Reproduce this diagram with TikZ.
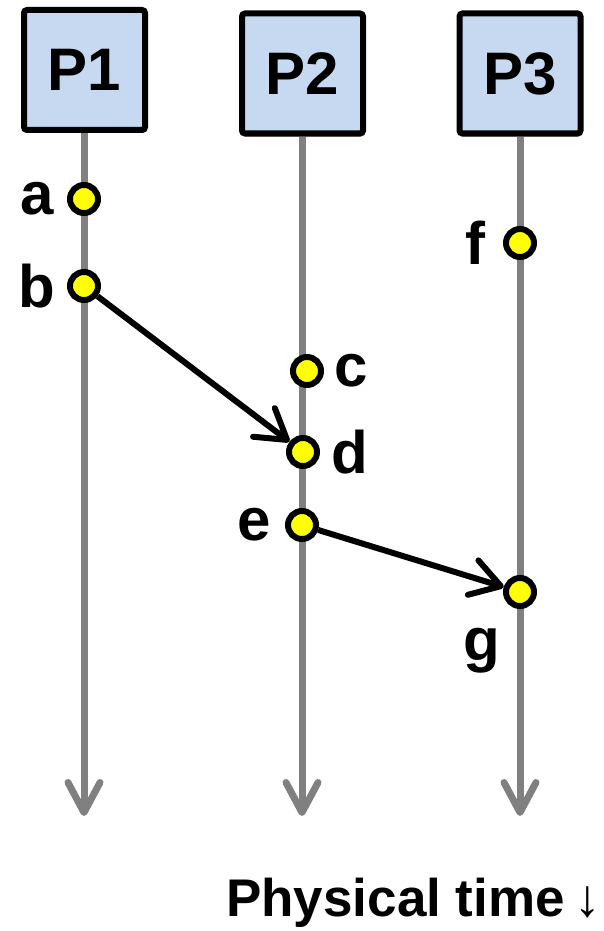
\documentclass[tikz,border=0pt]{standalone}
\usepackage{fontspec}
\setmainfont{Liberation Sans}
\newfontfamily\arrowfont{Liberation Serif}
\usepackage{xcolor}
\usetikzlibrary{positioning,arrows.meta,shadows}
\definecolor{procblue}{RGB}{198,217,241}
\definecolor{evyellow}{RGB}{255,255,0}
\begin{document}
\begin{tikzpicture}[x=1pt,y=-1pt,
            procbox/.style={rectangle,rounded corners=3pt,draw,line width=6pt,fill=procblue,minimum width=121pt,minimum height=120pt,inner sep=0pt,font=\fontsize{60}{66}\selectfont\bfseries,drop shadow={opacity=0.25,shadow xshift=2pt,shadow yshift=-3pt}},
            event/.style={circle,draw,line width=6pt,fill=evyellow,minimum size=28pt,inner sep=0pt,drop shadow={opacity=0.2,shadow xshift=1pt,shadow yshift=-2pt}},
            evlabel/.style={inner sep=0pt,font=\fontsize{60}{66}\selectfont\bfseries},
            timeline/.style={-{Straight Barb[length=30pt,width=32pt,round]},line width=7pt,gray},
            msg/.style={-{Straight Barb[length=29pt,width=36pt,round]},line width=6pt,black}]
            \useasboundingbox (0,0) rectangle (603,931);
            \node[procbox] (p1) at (84.5,70) {P1};
            \node[procbox] (p2) at (302.5,73.5) {P2};
            \node[procbox] (p3) at (520,73.5) {P3};
            \coordinate (t1) at (84,816);
            \coordinate (t2) at (302,816);
            \coordinate (t3) at (520,816);
            \draw[timeline] (p1.south -| t1) -- (t1);
            \draw[timeline] (p2.south -| t2) -- (t2);
            \draw[timeline] (p3.south -| t3) -- (t3);
            \node[event] (ea) at (84,199) {};
            \node[event] (eb) at (84,286) {};
            \node[event] (ec) at (307,371) {};
            \node[event] (ed) at (303,452) {};
            \node[event] (ee) at (302,525) {};
            \node[event] (ef) at (520,243) {};
            \node[event] (eg) at (520,592) {};
            \node[evlabel,left=13pt of ea] (la) {a};
            \node[evlabel,left=12pt of eb] (lb) {b};
            \node[evlabel,right=10pt of ec] (lc) {c};
            \node[evlabel,right=11pt of ed] (ld) {d};
            \node[evlabel,left=14pt of ee] (le) {e};
            \node[evlabel,left=17pt of ef] (lf) {f};
            \node[evlabel,below=19pt of eg,xshift=-38pt] (lg) {g};
            \draw[msg] (eb) -- (ed);
            \draw[msg] (ee) -- (eg);
            \node[anchor=base west,inner sep=0pt,font=\fontsize{53}{60}\selectfont\bfseries] (ptime) at (226,916) {Physical time\kern10pt{\arrowfont\mdseries ↓}};
        \end{tikzpicture}
\end{document}
